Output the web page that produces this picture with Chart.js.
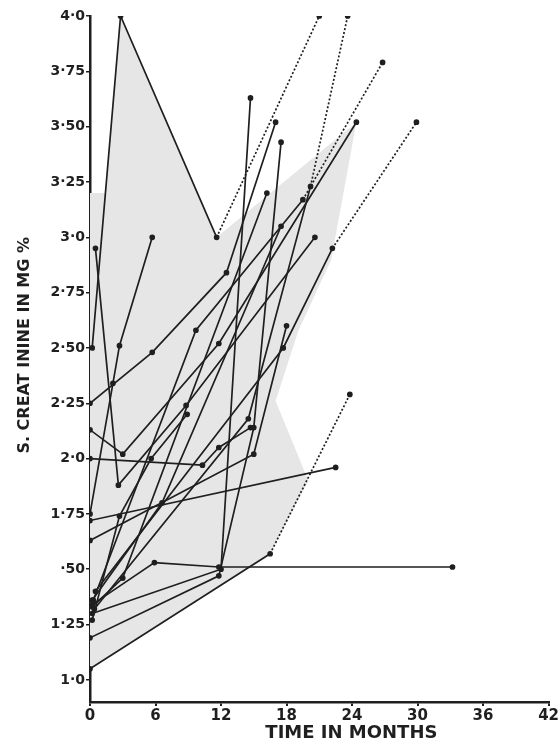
<!DOCTYPE html>
<html><head><meta charset="utf-8">
<script src="https://cdn.jsdelivr.net/npm/chart.js@4.4.1/dist/chart.umd.min.js"></script>
<style>html,body{margin:0;padding:0;background:#fff}#wrap{width:560px;height:744px}</style>
</head><body><div id="wrap"><canvas id="c" width="560" height="744"></canvas></div>
<script>
// ---- data (month, serum creatinine mg %) ----
const monthTicks = [0, 6, 12, 18, 24, 30, 36, 42];
const creatinineTicks = [1.0, 1.25, 1.5, 1.75, 2.0, 2.25, 2.5, 2.75, 3.0, 3.25, 3.5, 3.75, 4.0];
const creatinineTickLabels = ['1·0','1·25','·50','1·75','2·0','2·25','2·50','2·75','3·0','3·25','3·50','3·75','4·0'];
const xAxisTitle = 'TIME IN MONTHS';
const yAxisTitle = 'S. CREAT ININE IN MG %';

const p01 = [[0.2,2.5],[2.8,4.0],[11.6,3.0],[21.0,4.0]];
const p02 = [[0.4,1.32],[14.5,2.18],[20.2,3.23],[23.6,4.0]];
const p03 = [[0.3,1.36],[9.7,2.58],[19.5,3.17],[26.8,3.79]];
const p04 = [[0.5,1.4],[17.7,2.5],[22.2,2.95],[29.9,3.52]];
const p05 = [[0,1.05],[16.5,1.57],[23.8,2.29]];
const p06 = [[0,1.72],[22.5,1.96]];
const p07 = [[0.2,1.34],[5.9,1.53],[11.8,1.51],[33.2,1.51]];
const p08 = [[0,1.19],[11.8,1.47],[15.0,2.14],[17.5,3.43]];
const p09 = [[0,2.0],[10.3,1.97],[11.8,2.05],[14.7,2.14]];
const p10 = [[0,1.75],[2.1,2.34],[2.7,2.51],[5.7,3.0]];
const p11 = [[0,2.25],[5.7,2.48],[12.5,2.84],[17.0,3.52]];
const p12 = [[0,2.13],[3.0,2.02],[11.8,2.52],[24.4,3.52]];
const p13 = [[0.5,2.95],[2.6,1.88],[8.8,2.24],[20.6,3.0]];
const p14 = [[0.2,1.3],[12.0,1.5],[14.7,3.63]];
const p15 = [[0.2,1.33],[3.0,1.46],[16.2,3.2]];
const p16 = [[0.2,1.36],[6.6,1.8],[17.5,3.05]];
const p17 = [[0.2,1.27],[2.7,1.74],[5.6,2.0],[8.9,2.2]];
const p18 = [[0,1.63],[15.0,2.02],[18.0,2.6]];
const patients = [p01,p02,p03,p04,p05,p06,p07,p08,p09,p10,p11,p12,p13,p14,p15,p16,p17,p18];
// last interval extrapolated (dotted) for these patients
const extrapolated = [p01, p02, p03, p04, p05];

// shaded range envelope (month, value)
const envelope = [[0,3.2],[1.4,3.2],[2.8,4.0],[11.6,3.0],[24.4,3.52],[22.1,2.9],[19.1,2.58],[17.0,2.26],[20.0,1.9],[16.5,1.57],[0,1.05]];

// ---- chart ----
const ink = '#1f1f1f';
const datasets = patients.map(p => {
  const dotted = extrapolated.includes(p);
  return {
    data: p.map(([x, y]) => ({x, y})),
    showLine: true,
    borderColor: ink,
    backgroundColor: ink,
    borderWidth: 1.7,
    pointRadius: 2,
    pointHoverRadius: 2,
    tension: 0,
    segment: {
      borderDash: ctx => (dotted && ctx.p1DataIndex === p.length - 1) ? [2, 2] : undefined
    }
  };
});

const envelopePlugin = {
  id: 'envelope',
  beforeDatasetsDraw(chart) {
    const {ctx, scales: {x, y}} = chart;
    ctx.save();
    ctx.fillStyle = '#e6e6e6';
    ctx.beginPath();
    envelope.forEach(([m, v], i) => {
      const px = x.getPixelForValue(m), py = y.getPixelForValue(v);
      i ? ctx.lineTo(px, py) : ctx.moveTo(px, py);
    });
    ctx.closePath();
    ctx.fill();
    ctx.restore();
  }
};

const titlesPlugin = {
  id: 'titles',
  afterDraw(chart) {
    const {ctx, chartArea: a} = chart;
    ctx.save();
    ctx.fillStyle = ink;
    ctx.font = 'bold 18px "DejaVu Sans", sans-serif';
    ctx.textAlign = 'center';
    ctx.textBaseline = 'middle';
    ctx.fillText(xAxisTitle, a.left + (a.right - a.left) * 0.57, a.bottom + 31);
    ctx.translate(25, a.top + (a.bottom - a.top) * 0.48);
    ctx.rotate(-Math.PI / 2);
    ctx.font = 'bold 16px "DejaVu Sans", sans-serif';
    ctx.fillText(yAxisTitle, 0, 0);
    ctx.restore();
  }
};

new Chart(document.getElementById('c'), {
  type: 'scatter',
  data: {datasets},
  options: {
    responsive: false,
    animation: false,
    layout: {padding: {top: 16, right: 0, left: 0, bottom: 0}},
    plugins: {legend: {display: false}, tooltip: {enabled: false}},
    scales: {
      x: {
        type: 'linear', min: 0, max: 42,
        afterBuildTicks: s => { s.ticks = monthTicks.map(v => ({value: v})); },
        afterFit: s => { s.height = 42; },
        border: {color: ink, width: 2.5},
        grid: {drawOnChartArea: false, drawTicks: true, tickLength: 4, color: ink, lineWidth: 2},
        ticks: {color: ink, padding: 1, maxRotation: 0,
          font: {family: '"DejaVu Sans", sans-serif', size: 15, weight: 'bold'}}
      },
      y: {
        type: 'linear', min: 0.9, max: 4.0,
        afterBuildTicks: s => { s.ticks = creatinineTicks.map(v => ({value: v})); },
        afterFit: s => { s.width = 90; },
        border: {color: ink, width: 2.5},
        grid: {drawOnChartArea: false, drawTicks: true, tickLength: 4, color: ink, lineWidth: 1.5},
        ticks: {color: ink, padding: 1,
          callback: (v) => { const i = creatinineTicks.indexOf(v); return i >= 0 ? creatinineTickLabels[i] : ''; },
          font: {family: '"DejaVu Sans", sans-serif', size: 14, weight: 'bold'}}
      }
    }
  },
  plugins: [envelopePlugin, titlesPlugin]
});
</script></body></html>
